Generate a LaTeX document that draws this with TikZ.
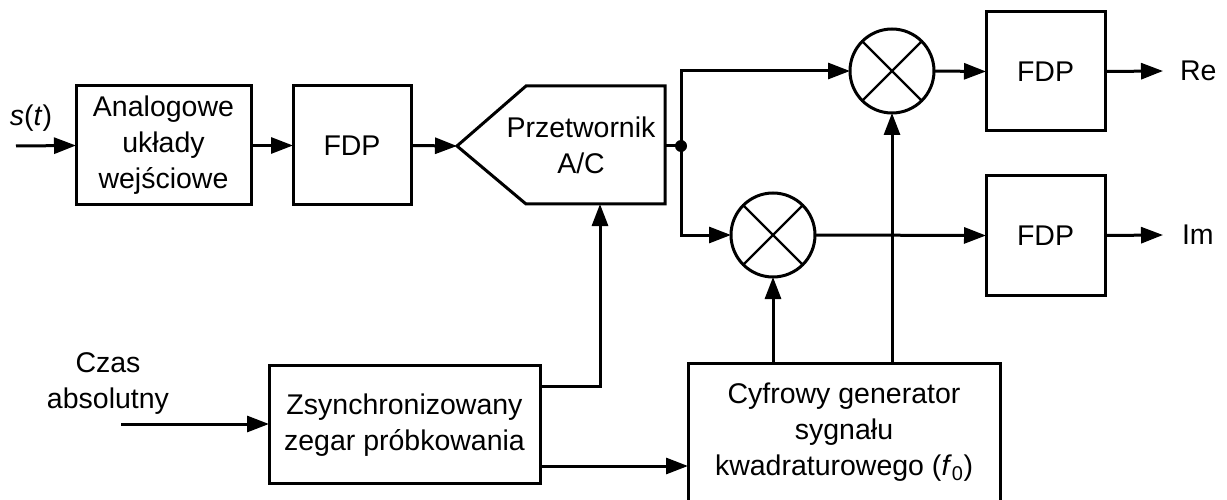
\documentclass[tikz,border=0pt]{standalone}
\usepackage{fontspec}
\setmainfont{Liberation Sans}
\usetikzlibrary{arrows.meta,calc}
\begin{document}
\begin{tikzpicture}[x=1pt,y=-1pt,
  every node/.style={font=\fontsize{28.5}{36}\selectfont, inner sep=0pt, outer sep=0pt},
  blk/.style={draw, line width=3pt, align=center},
  mix/.style={draw, circle, line width=3pt, minimum size=84pt},
  txt/.style={align=center},
  conn/.style={line width=3pt},
  arr/.style={conn, -{Triangle[length=22pt,width=16pt]}}]
\useasboundingbox (0,0) rectangle (1227,500);
% blocks
\node[blk, minimum width=175pt, minimum height=119pt] (ana) at (163.5,145.5) {Analogowe\\układy\\wejściowe};
\node[blk, minimum width=118pt, minimum height=119pt] (fdp1) at (352,145.5) {FDP};
% A/C converter
\coordinate (adcin) at (457,146);
\coordinate (adcout) at (665,146);
\coordinate (adcbot) at (600,204);
\draw[line width=3pt, line join=miter] (adcin) -- (526,86) -- (665,86) -- (665,204) -- (526,204) -- cycle;
\node[txt] (adc) at (581,145) {Przetwornik\\A/C};
\coordinate (jn) at (681,146);
\fill (jn) circle (6pt);
% mixers
\node[mix] (m1) at (892,71) {};
\draw[line width=2.4pt] (m1.45) -- (m1.225) (m1.135) -- (m1.315);
\node[mix] (m2) at (773,235) {};
\draw[line width=2.4pt] (m2.45) -- (m2.225) (m2.135) -- (m2.315);
% output filters
\node[blk, minimum width=119pt, minimum height=119pt] (fre) at (1045.5,71.5) {FDP};
\node[blk, minimum width=119pt, minimum height=119pt] (fim) at (1045.5,235.5) {FDP};
\node[anchor=west] (re) at (1180,71) {Re};
\node[anchor=west] (im) at (1182,235) {Im};
\coordinate (reend) at (1163,71);
\coordinate (imend) at (1163,235);
% lower blocks
\node[blk, minimum width=271pt, minimum height=118pt] (clk) at (404.5,424) {};
\node[txt] (clktxt) at (404.5,425) {Zsynchronizowany\\zegar próbkowania};
\node[blk, minimum width=312pt, minimum height=160pt] (gen) at (844,443) {};
\node[txt] (gentxt) at (844,432) {Cyfrowy generator\\sygnału\\kwadraturowego (\textit{f}\textsubscript{0})};
\node[txt] (czas) at (108,384) {Czas\\absolutny};
\node[txt] (st) at (31,118) {\textit{s}(\textit{t})};
\coordinate (stin) at (16,146);
\coordinate (czin) at (121,424);
% connectors
\draw[arr] (stin) -- (ana.west);
\draw[arr] (ana.east) -- (fdp1.west);
\draw[arr] (fdp1.east) -- (adcin);
\draw[conn] (adcout) -- (jn);
\draw[arr] (jn) |- (m1.west);
\draw[arr] (jn) |- (m2.west);
\draw[arr] (m1.east) -- (fre.west);
\draw[arr] (fre.east) -- (reend);
\draw[arr] (m2.east) -- (fim.west);
\draw[arr] (fim.east) -- (imend);
\draw[arr] (m2.south |- gen.north) -- (m2.south);
\draw[arr] (m1.south |- gen.north) -- (m1.south);
\draw[arr] (czin) -- (clk.west);
\draw[arr] ($(clk.north east)+(0,21)$) -| (adcbot);
\draw[arr] ($(clk.south east)+(0,-17)$) -- ($(gen.west |- clk.south east)+(0,-17)$);
\end{tikzpicture}
\end{document}
